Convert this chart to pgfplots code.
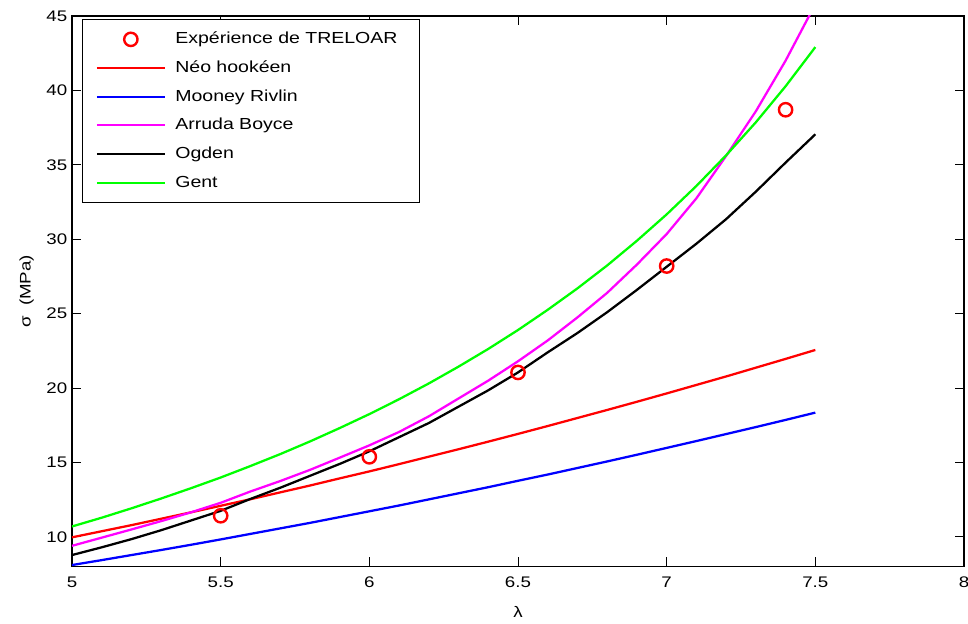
\documentclass[border=0pt]{standalone}
\usepackage{fontspec}
\setmainfont{Liberation Sans}[FakeStretch=1.22]
\usepackage{pgfplots}
\pgfplotsset{compat=1.18}
\definecolor{mag}{RGB}{255,0,255}
\definecolor{grn}{RGB}{0,255,0}
\pgfplotsset{
  lineleg/.style={legend image code/.code={\draw[##1, line width=1.7pt] (0pt,0pt) -- (51pt,0pt);}},
  markleg/.style={legend image code/.code={\draw[mark repeat=2,mark phase=2,##1, line width=1.8pt] plot coordinates {(0pt,0pt) (25.5pt,0pt) (51pt,0pt)};}},
}

\begin{document}
\begin{tikzpicture}
\begin{axis}[
  name=ax,
  scale only axis,
  width=669pt, height=413pt,
  xmin=5, xmax=8, ymin=8, ymax=45,
  xtick={5,5.5,...,8},
  ytick={10,15,...,45},
  tick align=inside,
  major tick length=7pt,
  every tick/.style={black, line width=0.7pt},
  axis line style={line width=0.8pt},
  font=\fontsize{11.5}{13}\selectfont,
  /pgf/number format/assume math mode=true,
  xticklabel style={yshift=-4pt},
  xlabel={λ},
  ylabel={σ \ (MPa)},
  xlabel style={at={(axis description cs:0.5,0)}, anchor=center, yshift=-34pt},
  ylabel style={at={(axis description cs:0,0.5)}, anchor=center, yshift=34pt},
  legend style={at={(axis description cs:0.0112,0.994)}, anchor=north west,
    draw=black, line width=0.6pt, fill=white,
    inner xsep=10pt, inner ysep=9pt,
    row sep=10pt, column sep=7pt,
    font=\fontsize{12}{14}\selectfont,
    nodes={inner sep=0pt, text height=9pt, text depth=2.5pt, text width=173pt, align=left}},
  legend cell align=left,
  lineleg,
  every axis plot/.append style={line width=1.7pt},
]
\addplot[red, only marks, mark=o, mark size=5pt, line width=1.8pt, markleg]
  coordinates {(5.5,11.42) (6.0,15.38) (6.5,21.05) (7.0,28.2) (7.4,38.7)};
\addlegendentry{Expérience de TRELOAR}

\addplot[red] coordinates {
  (5.0,9.97) (5.1,10.38) (5.2,10.79) (5.3,11.22) (5.4,11.65) (5.5,12.09)
  (5.6,12.53) (5.7,12.99) (5.8,13.45) (5.9,13.93) (6.0,14.40) (6.1,14.89)
  (6.2,15.39) (6.3,15.89) (6.4,16.40) (6.5,16.92) (6.6,17.45) (6.7,17.99)
  (6.8,18.53) (6.9,19.08) (7.0,19.64) (7.1,20.21) (7.2,20.78) (7.3,21.37)
  (7.4,21.96) (7.5,22.56)};
\addlegendentry{Néo hookéen}

\addplot[blue] coordinates {
  (5.0,8.11) (5.1,8.44) (5.2,8.78) (5.3,9.12) (5.4,9.47) (5.5,9.83)
  (5.6,10.20) (5.7,10.57) (5.8,10.94) (5.9,11.33) (6.0,11.72) (6.1,12.11)
  (6.2,12.52) (6.3,12.93) (6.4,13.34) (6.5,13.77) (6.6,14.19) (6.7,14.63)
  (6.8,15.07) (6.9,15.52) (7.0,15.98) (7.1,16.44) (7.2,16.91) (7.3,17.38)
  (7.4,17.86) (7.5,18.35)};
\addlegendentry{Mooney Rivlin}

\addplot[mag] coordinates {
  (5.0,9.40) (5.1,9.95) (5.2,10.50) (5.3,11.06) (5.4,11.65) (5.5,12.29)
  (5.6,13.05) (5.7,13.75) (5.8,14.50) (5.9,15.32) (6.0,16.15) (6.1,17.05)
  (6.2,18.10) (6.3,19.30) (6.4,20.50) (6.5,21.80) (6.6,23.20) (6.7,24.75)
  (6.8,26.40) (6.9,28.30) (7.0,30.35) (7.1,32.75) (7.2,35.60) (7.3,38.60)
  (7.4,42.00) (7.5,45.80)};
\addlegendentry{Arruda Boyce}

\addplot[black] coordinates {
  (5.0,8.78) (5.1,9.30) (5.2,9.85) (5.3,10.45) (5.4,11.10) (5.5,11.75)
  (5.6,12.55) (5.7,13.30) (5.8,14.10) (5.9,14.90) (6.0,15.75) (6.1,16.70)
  (6.2,17.65) (6.3,18.75) (6.4,19.85) (6.5,21.05) (6.6,22.40) (6.7,23.70)
  (6.8,25.10) (6.9,26.60) (7.0,28.15) (7.1,29.70) (7.2,31.35) (7.3,33.20)
  (7.4,35.15) (7.5,37.05)};
\addlegendentry{Ogden}

\addplot[grn] coordinates {
  (5.0,10.70) (5.1,11.29) (5.2,11.92) (5.3,12.58) (5.4,13.27) (5.5,13.99)
  (5.6,14.76) (5.7,15.56) (5.8,16.41) (5.9,17.31) (6.0,18.25) (6.1,19.25)
  (6.2,20.31) (6.3,21.44) (6.4,22.63) (6.5,23.90) (6.6,25.26) (6.7,26.70)
  (6.8,28.24) (6.9,29.90) (7.0,31.67) (7.1,33.58) (7.2,35.64) (7.3,37.86)
  (7.4,40.28) (7.5,42.91)};
\addlegendentry{Gent}
\end{axis}
\pgfresetboundingbox
\path ([shift={(-54pt,-43pt)}]ax.south west) rectangle ([shift={(3pt,12pt)}]ax.north east);
\end{tikzpicture}
\end{document}
